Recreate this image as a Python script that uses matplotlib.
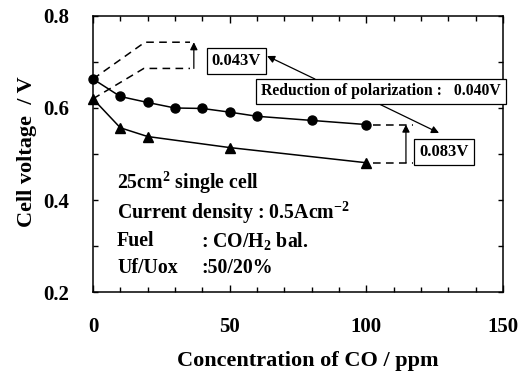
import matplotlib
matplotlib.use("Agg")
import matplotlib.pyplot as plt
from matplotlib.ticker import MultipleLocator

plt.rcParams['font.family'] = ['Liberation Serif', 'DejaVu Serif']
plt.rcParams['font.weight'] = 'bold'
plt.rcParams['mathtext.fontset'] = 'custom'
plt.rcParams['mathtext.rm'] = 'Liberation Serif:bold'
plt.rcParams['mathtext.bf'] = 'Liberation Serif:bold'
plt.rcParams['mathtext.it'] = 'Liberation Serif:bold:italic'

# CO concentration (ppm) and cell voltage (V)
co_circle = [0, 10, 20, 30, 40, 50, 60, 80, 100]
v_circle = [0.663, 0.625, 0.612, 0.600, 0.599, 0.591, 0.582, 0.573, 0.564]
co_triangle = [0, 10, 20, 50, 100]
v_triangle = [0.620, 0.557, 0.538, 0.514, 0.481]

x_ticks = [0, 50, 100, 150]
y_ticks = [0.2, 0.4, 0.6, 0.8]

fig = plt.figure(figsize=(5.18, 3.71), dpi=100)
ax = fig.add_axes([0.1795, 0.2129, 0.7915, 0.744])

ax.plot(co_circle, v_circle, '-o', color='black', lw=1.1, ms=6.5, clip_on=False, zorder=4)
ax.plot(co_triangle, v_triangle, '-^', color='black', lw=1.1, ms=7, clip_on=False, zorder=4)

ax.set_xlim(0, 150)
ax.set_ylim(0.2, 0.8)
ax.set_xticks(x_ticks)
ax.set_yticks(y_ticks)
ax.set_xticklabels([str(t) for t in x_ticks])
ax.set_yticklabels([f"{t:.1f}" for t in y_ticks])
ax.xaxis.set_minor_locator(MultipleLocator(10))
ax.yaxis.set_minor_locator(MultipleLocator(0.1))
ax.tick_params(which='both', direction='in', top=True, right=True, width=1.0)
ax.tick_params(which='major', axis='x', length=5, pad=18, labelsize=15)
ax.tick_params(which='minor', axis='x', length=3.5)
ax.tick_params(which='major', axis='y', length=3.5, pad=17, labelsize=15)
ax.tick_params(which='minor', axis='y', length=3.5)
for s in ax.spines.values():
    s.set_linewidth(1.1)

ax.set_xlabel('Concentration of CO / ppm', fontsize=16, fontweight='bold')
ax.xaxis.set_label_coords(0.524, -0.215)
ax.set_ylabel('Cell voltage  / V', fontsize=16, fontweight='bold')
ax.yaxis.set_label_coords(-0.137, 0.51)

dash = dict(color='black', lw=1.1, ls=(0, (5, 3.5)))

# Shifted start voltages
ax.plot([0, 19.0, 35.5], [0.663, 0.743, 0.743], **dash)
ax.plot([0, 18.6, 35.5], [0.620, 0.686, 0.686], **dash)
arrow = dict(arrowstyle='-|>', color='black', lw=0.9, mutation_scale=11,
             shrinkA=0, shrinkB=0)
ax.annotate('', xy=(36.9, 0.743), xytext=(36.9, 0.686), arrowprops=arrow)

# Gap at 100 ppm
ax.plot([102.5, 117], [0.564, 0.564], **dash)
ax.plot([102.5, 117], [0.481, 0.481], **dash)
ax.annotate('', xy=(114.5, 0.564), xytext=(114.5, 0.481), arrowprops=arrow)

box = dict(boxstyle='square,pad=0.3', fc='white', ec='black', lw=0.9)
ax.text(52.5, 0.702, '0.043V', fontsize=12, ha='center', va='center', bbox=box)
ax.text(128.4, 0.5054, '0.083V', fontsize=12, ha='center', va='center', bbox=box)
ax.text(61.5, 0.636, 'Reduction of polarization :   0.040V', fontsize=11.3,
        ha='left', va='center', bbox=box, zorder=5)

ax.annotate('', xy=(63.7, 0.713), xytext=(81.2, 0.663), arrowprops=arrow)
ax.annotate('', xy=(126.6, 0.5457), xytext=(103.9, 0.611), arrowprops=arrow)

# Test conditions
fs = 14.3
ax.text(8.8, 0.437, r'25cm$^{\mathrm{2}}$ single cell', fontsize=fs, va='center')
ax.text(8.8, 0.372, r'Current density : 0.5Acm$^{\mathrm{-2}}$', fontsize=fs, va='center')
ax.text(8.8, 0.311, 'Fuel', fontsize=fs, va='center')
ax.text(39.5, 0.311, r': CO/H$_{\mathrm{2}}$ bal.', fontsize=fs, va='center')
ax.text(8.8, 0.252, 'Uf/Uox', fontsize=fs, va='center')
ax.text(39.8, 0.252, ':50/20%', fontsize=fs, va='center')

fig.savefig('out.png', dpi=100)
